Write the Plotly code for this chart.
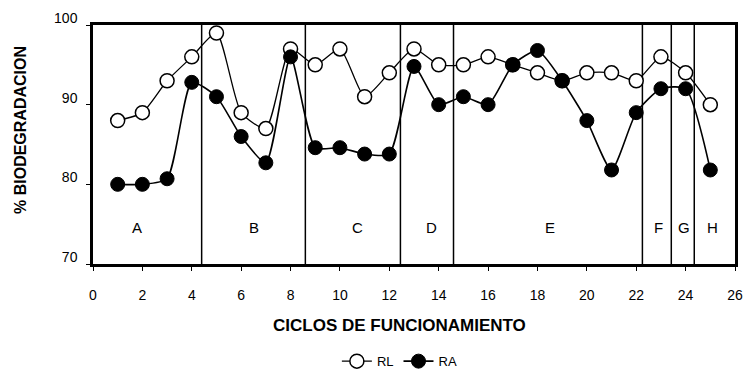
import plotly.graph_objects as go

ciclos = list(range(1, 26))
rl = [88, 89, 93, 96, 99, 89, 87, 97, 95, 97, 91, 94, 97, 95, 95, 96, 95, 94, 93, 94, 94, 93, 96, 94, 90]
ra = [80, 80, 80.7, 92.8, 91, 86, 82.7, 96, 84.6, 84.6, 83.8, 83.8, 94.8, 90, 91, 90, 95, 96.8, 93, 88, 81.8, 89, 92, 92, 81.8]

fase_limites = [4.4, 8.6, 12.45, 14.6, 22.25, 23.42, 24.35]
fase_letras = ["A", "B", "C", "D", "E", "F", "G", "H"]
fase_x = [1.8, 6.5, 10.7, 13.7, 18.5, 22.9, 23.95, 25.1]
fase_y = 74.6

x_ticks = list(range(0, 27, 2))
y_ticks = [70, 80, 90, 100]

FONT = "Liberation Sans, Arial, sans-serif"

fig = go.Figure()
fig.add_trace(go.Scatter(
    x=ciclos, y=rl, name="RL", mode="lines+markers",
    line=dict(color="black", width=1.3, shape="spline", smoothing=0.6),
    marker=dict(symbol="circle", size=14, color="white", line=dict(color="black", width=1.5)),
))
fig.add_trace(go.Scatter(
    x=ciclos, y=ra, name="RA", mode="lines+markers",
    line=dict(color="black", width=1.6, shape="spline", smoothing=0.6),
    marker=dict(symbol="circle", size=14, color="black", line=dict(color="black", width=1)),
))

for xv in fase_limites:
    fig.add_shape(type="line", x0=xv, x1=xv, y0=70, y1=100, xref="x", yref="y",
                  line=dict(color="black", width=1.5), layer="below")

for lx, lt in zip(fase_x, fase_letras):
    fig.add_annotation(x=lx, y=fase_y, text=lt, showarrow=False,
                       font=dict(family=FONT, size=15, color="black"))

fig.add_annotation(xref="paper", yref="paper", x=-0.114, y=0.56, xanchor="center", yanchor="middle",
                   textangle=-90, text="<b>% BIODEGRADACION</b>", showarrow=False,
                   font=dict(family=FONT, size=16, color="black"))
fig.add_annotation(xref="paper", yref="paper", x=0.478, y=-0.259, xanchor="center", yanchor="middle",
                   text="<b>CICLOS DE FUNCIONAMIENTO</b>", showarrow=False,
                   font=dict(family=FONT, size=17, color="black"))

fig.update_layout(
    width=746, height=379,
    margin=dict(l=93, r=11, t=25, b=115, autoexpand=False),
    paper_bgcolor="white", plot_bgcolor="white",
    font=dict(family=FONT, color="black"),
    showlegend=True,
    legend=dict(orientation="h", x=0.478, xanchor="center", yref="container", y=0.047, yanchor="middle",
                font=dict(size=13, family=FONT), bgcolor="rgba(0,0,0,0)"),
)
fig.update_xaxes(
    range=[0, 26], tickvals=x_ticks, ticktext=[str(v) for v in x_ticks],
    showgrid=False, zeroline=False, showline=True, linecolor="black", linewidth=2.5, mirror=True,
    ticks="outside", ticklen=4, tickwidth=1, tickcolor="black",
    tickfont=dict(size=14, family=FONT), ticklabelstandoff=12,
)
fig.update_yaxes(
    range=[70, 100], tickvals=y_ticks, ticktext=[str(v) for v in y_ticks],
    showgrid=False, zeroline=False, showline=True, linecolor="black", linewidth=2.5, mirror=True,
    ticks="outside", ticklen=4, tickwidth=1, tickcolor="black",
    tickfont=dict(size=14, family=FONT), ticklabelstandoff=6, ticklabelshift=-7,
)

fig.write_html("out.html")
